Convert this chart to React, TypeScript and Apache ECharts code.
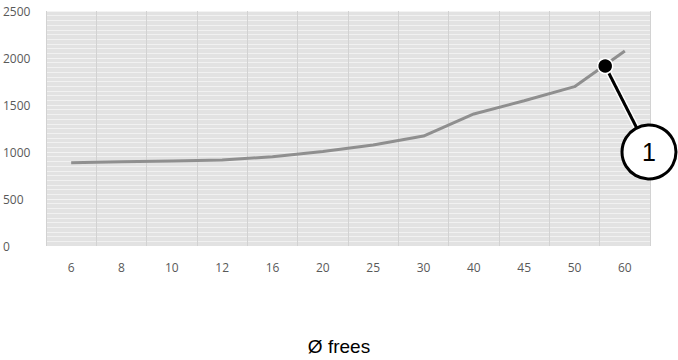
import React, { useEffect, useRef } from "react";
import * as echarts from "echarts";

const categories = ["6", "8", "10", "12", "16", "20", "25", "30", "40", "45", "50", "60"];
const values = [885, 895, 905, 915, 950, 1005, 1075, 1170, 1405, 1545, 1695, 2075];
const yTicks = [0, 500, 1000, 1500, 2000, 2500];
const calloutDot: [number, number] = [10.61, 1915];
const calloutCircle: [number, number] = [11.48, 1000];
const calloutLabel = "1";
const axisTitle = "Ø frees";

export default function App() {
  const ref = useRef<HTMLDivElement>(null);
  useEffect(() => {
    if (!ref.current) return;
    const chart = echarts.init(ref.current, null, { renderer: "svg" });
    chart.setOption({
      animation: false,
      grid: {
        left: 46,
        right: 28,
        top: 11,
        bottom: 114,
        show: true,
        backgroundColor: "#e2e2e2",
        borderWidth: 0,
      },
      xAxis: [
        {
          type: "category",
          data: categories,
          boundaryGap: true,
          axisLine: { show: false },
          axisTick: { show: false },
          axisLabel: { color: "#595959", fontFamily: "Open Sans", fontSize: 12, margin: 15 },
          splitLine: { show: true, interval: 0, lineStyle: { color: "#d2d2d2", width: 1 } },
        },
        {
          type: "value",
          min: -0.5,
          max: categories.length - 0.5,
          show: false,
        },
      ],
      yAxis: {
        type: "value",
        min: yTicks[0],
        max: yTicks[yTicks.length - 1],
        interval: 500,
        axisLine: { show: false },
        axisTick: { show: false },
        axisLabel: {
          color: "#595959",
          fontFamily: "Open Sans",
          fontSize: 12,
          align: "left",
          margin: 43,
          formatter: (v: number) => String(v),
        },
        splitLine: { show: true, lineStyle: { color: "rgba(255,255,255,0.6)", width: 1 } },
        minorTick: { show: false, splitNumber: 10 },
        minorSplitLine: { show: true, lineStyle: { color: "rgba(255,255,255,0.5)", width: 1 } },
      },
      series: [
        {
          type: "line",
          data: values,
          xAxisIndex: 0,
          symbol: "none",
          lineStyle: { color: "#8f8f8f", width: 3 },
          z: 2,
        },
        {
          type: "line",
          xAxisIndex: 1,
          data: [calloutDot, calloutCircle],
          symbol: "none",
          clip: false,
          lineStyle: { color: "#ffffff", width: 6 },
          z: 3,
        },
        {
          type: "line",
          xAxisIndex: 1,
          data: [calloutDot, calloutCircle],
          symbol: "none",
          clip: false,
          lineStyle: { color: "#000000", width: 3 },
          z: 4,
        },
        {
          type: "scatter",
          xAxisIndex: 1,
          data: [calloutDot],
          symbolSize: 15,
          clip: false,
          itemStyle: { color: "#000000", borderColor: "#ffffff", borderWidth: 1.5, opacity: 1 },
          z: 5,
        },
        {
          type: "scatter",
          xAxisIndex: 1,
          data: [calloutCircle],
          symbolSize: 54,
          clip: false,
          itemStyle: { color: "#ffffff", borderColor: "#000000", borderWidth: 3, opacity: 1 },
          label: {
            show: true,
            position: "inside",
            formatter: calloutLabel,
            color: "#000000",
            fontFamily: "Liberation Sans",
            fontSize: 25,
          },
          z: 6,
        },
      ],
      graphic: [
        {
          type: "text",
          left: "center",
          top: 337,
          style: {
            text: axisTitle,
            fill: "#000000",
            font: "19px 'Liberation Sans'",
          },
        },
      ],
    });
    return () => chart.dispose();
  }, []);
  return <div ref={ref} style={{ width: 678, height: 360, position: "absolute", left: 0, top: 0 }} />;
}
